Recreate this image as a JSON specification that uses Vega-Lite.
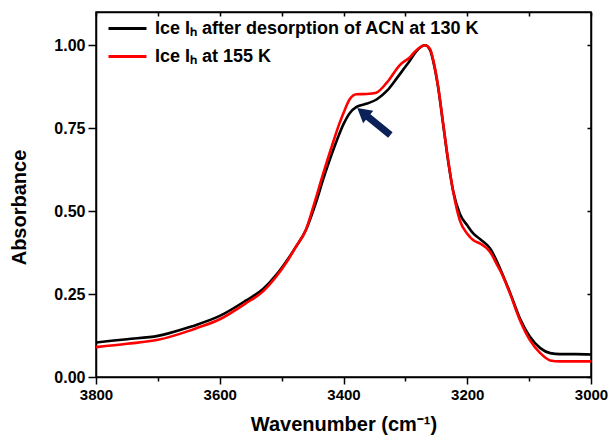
{
  "$schema": "https://vega.github.io/schema/vega-lite/v6.json",
  "width": 495,
  "height": 365,
  "autosize": {"type": "none"},
  "padding": {"left": 96, "top": 12, "right": 19, "bottom": 66},
  "background": "white",
  "config": {
    "font": "Liberation Sans",
    "view": {"stroke": "black", "strokeWidth": 1.5},
    "axis": {"grid": false, "domainColor": "black", "tickColor": "black", "domainWidth": 1.5, "tickWidth": 1.5, "labelColor": "black", "titleColor": "black", "labelFont": "Liberation Sans", "titleFont": "Liberation Sans", "labelFontWeight": "bold", "titleFontWeight": "bold"}
  },
  "datasets": {
    "spectra": [
      {"wn": 3800, "a": 0.104, "s": "Ice Iₕ after desorption of ACN at 130 K"},
      {"wn": 3750, "a": 0.114, "s": "Ice Iₕ after desorption of ACN at 130 K"},
      {"wn": 3700, "a": 0.124, "s": "Ice Iₕ after desorption of ACN at 130 K"},
      {"wn": 3650, "a": 0.150, "s": "Ice Iₕ after desorption of ACN at 130 K"},
      {"wn": 3638, "a": 0.157, "s": "Ice Iₕ after desorption of ACN at 130 K"},
      {"wn": 3600, "a": 0.184, "s": "Ice Iₕ after desorption of ACN at 130 K"},
      {"wn": 3558, "a": 0.230, "s": "Ice Iₕ after desorption of ACN at 130 K"},
      {"wn": 3530, "a": 0.265, "s": "Ice Iₕ after desorption of ACN at 130 K"},
      {"wn": 3509, "a": 0.307, "s": "Ice Iₕ after desorption of ACN at 130 K"},
      {"wn": 3490, "a": 0.355, "s": "Ice Iₕ after desorption of ACN at 130 K"},
      {"wn": 3477, "a": 0.392, "s": "Ice Iₕ after desorption of ACN at 130 K"},
      {"wn": 3461, "a": 0.442, "s": "Ice Iₕ after desorption of ACN at 130 K"},
      {"wn": 3447, "a": 0.512, "s": "Ice Iₕ after desorption of ACN at 130 K"},
      {"wn": 3430, "a": 0.612, "s": "Ice Iₕ after desorption of ACN at 130 K"},
      {"wn": 3411, "a": 0.712, "s": "Ice Iₕ after desorption of ACN at 130 K"},
      {"wn": 3400, "a": 0.762, "s": "Ice Iₕ after desorption of ACN at 130 K"},
      {"wn": 3390, "a": 0.795, "s": "Ice Iₕ after desorption of ACN at 130 K"},
      {"wn": 3379, "a": 0.814, "s": "Ice Iₕ after desorption of ACN at 130 K"},
      {"wn": 3362, "a": 0.824, "s": "Ice Iₕ after desorption of ACN at 130 K"},
      {"wn": 3346, "a": 0.837, "s": "Ice Iₕ after desorption of ACN at 130 K"},
      {"wn": 3330, "a": 0.862, "s": "Ice Iₕ after desorption of ACN at 130 K"},
      {"wn": 3314, "a": 0.900, "s": "Ice Iₕ after desorption of ACN at 130 K"},
      {"wn": 3300, "a": 0.935, "s": "Ice Iₕ after desorption of ACN at 130 K"},
      {"wn": 3292, "a": 0.955, "s": "Ice Iₕ after desorption of ACN at 130 K"},
      {"wn": 3285, "a": 0.975, "s": "Ice Iₕ after desorption of ACN at 130 K"},
      {"wn": 3273, "a": 0.997, "s": "Ice Iₕ after desorption of ACN at 130 K"},
      {"wn": 3268, "a": 1.000, "s": "Ice Iₕ after desorption of ACN at 130 K"},
      {"wn": 3260, "a": 0.985, "s": "Ice Iₕ after desorption of ACN at 130 K"},
      {"wn": 3255, "a": 0.952, "s": "Ice Iₕ after desorption of ACN at 130 K"},
      {"wn": 3247, "a": 0.872, "s": "Ice Iₕ after desorption of ACN at 130 K"},
      {"wn": 3239, "a": 0.762, "s": "Ice Iₕ after desorption of ACN at 130 K"},
      {"wn": 3231, "a": 0.652, "s": "Ice Iₕ after desorption of ACN at 130 K"},
      {"wn": 3223, "a": 0.562, "s": "Ice Iₕ after desorption of ACN at 130 K"},
      {"wn": 3212, "a": 0.492, "s": "Ice Iₕ after desorption of ACN at 130 K"},
      {"wn": 3200, "a": 0.457, "s": "Ice Iₕ after desorption of ACN at 130 K"},
      {"wn": 3190, "a": 0.432, "s": "Ice Iₕ after desorption of ACN at 130 K"},
      {"wn": 3179, "a": 0.415, "s": "Ice Iₕ after desorption of ACN at 130 K"},
      {"wn": 3163, "a": 0.387, "s": "Ice Iₕ after desorption of ACN at 130 K"},
      {"wn": 3150, "a": 0.340, "s": "Ice Iₕ after desorption of ACN at 130 K"},
      {"wn": 3147, "a": 0.327, "s": "Ice Iₕ after desorption of ACN at 130 K"},
      {"wn": 3131, "a": 0.255, "s": "Ice Iₕ after desorption of ACN at 130 K"},
      {"wn": 3115, "a": 0.177, "s": "Ice Iₕ after desorption of ACN at 130 K"},
      {"wn": 3099, "a": 0.122, "s": "Ice Iₕ after desorption of ACN at 130 K"},
      {"wn": 3082, "a": 0.087, "s": "Ice Iₕ after desorption of ACN at 130 K"},
      {"wn": 3066, "a": 0.072, "s": "Ice Iₕ after desorption of ACN at 130 K"},
      {"wn": 3050, "a": 0.069, "s": "Ice Iₕ after desorption of ACN at 130 K"},
      {"wn": 3025, "a": 0.069, "s": "Ice Iₕ after desorption of ACN at 130 K"},
      {"wn": 3000, "a": 0.068, "s": "Ice Iₕ after desorption of ACN at 130 K"},
      {"wn": 3800, "a": 0.090, "s": "Ice Iₕ at 155 K"},
      {"wn": 3750, "a": 0.100, "s": "Ice Iₕ at 155 K"},
      {"wn": 3700, "a": 0.112, "s": "Ice Iₕ at 155 K"},
      {"wn": 3650, "a": 0.139, "s": "Ice Iₕ at 155 K"},
      {"wn": 3638, "a": 0.147, "s": "Ice Iₕ at 155 K"},
      {"wn": 3600, "a": 0.174, "s": "Ice Iₕ at 155 K"},
      {"wn": 3558, "a": 0.222, "s": "Ice Iₕ at 155 K"},
      {"wn": 3530, "a": 0.258, "s": "Ice Iₕ at 155 K"},
      {"wn": 3509, "a": 0.302, "s": "Ice Iₕ at 155 K"},
      {"wn": 3490, "a": 0.352, "s": "Ice Iₕ at 155 K"},
      {"wn": 3477, "a": 0.392, "s": "Ice Iₕ at 155 K"},
      {"wn": 3461, "a": 0.442, "s": "Ice Iₕ at 155 K"},
      {"wn": 3449, "a": 0.512, "s": "Ice Iₕ at 155 K"},
      {"wn": 3433, "a": 0.612, "s": "Ice Iₕ at 155 K"},
      {"wn": 3416, "a": 0.712, "s": "Ice Iₕ at 155 K"},
      {"wn": 3407, "a": 0.762, "s": "Ice Iₕ at 155 K"},
      {"wn": 3398, "a": 0.805, "s": "Ice Iₕ at 155 K"},
      {"wn": 3390, "a": 0.837, "s": "Ice Iₕ at 155 K"},
      {"wn": 3379, "a": 0.852, "s": "Ice Iₕ at 155 K"},
      {"wn": 3363, "a": 0.853, "s": "Ice Iₕ at 155 K"},
      {"wn": 3347, "a": 0.857, "s": "Ice Iₕ at 155 K"},
      {"wn": 3330, "a": 0.887, "s": "Ice Iₕ at 155 K"},
      {"wn": 3309, "a": 0.940, "s": "Ice Iₕ at 155 K"},
      {"wn": 3292, "a": 0.965, "s": "Ice Iₕ at 155 K"},
      {"wn": 3285, "a": 0.980, "s": "Ice Iₕ at 155 K"},
      {"wn": 3273, "a": 0.997, "s": "Ice Iₕ at 155 K"},
      {"wn": 3268, "a": 1.000, "s": "Ice Iₕ at 155 K"},
      {"wn": 3260, "a": 0.988, "s": "Ice Iₕ at 155 K"},
      {"wn": 3255, "a": 0.955, "s": "Ice Iₕ at 155 K"},
      {"wn": 3247, "a": 0.875, "s": "Ice Iₕ at 155 K"},
      {"wn": 3239, "a": 0.765, "s": "Ice Iₕ at 155 K"},
      {"wn": 3231, "a": 0.655, "s": "Ice Iₕ at 155 K"},
      {"wn": 3223, "a": 0.562, "s": "Ice Iₕ at 155 K"},
      {"wn": 3212, "a": 0.472, "s": "Ice Iₕ at 155 K"},
      {"wn": 3200, "a": 0.432, "s": "Ice Iₕ at 155 K"},
      {"wn": 3190, "a": 0.412, "s": "Ice Iₕ at 155 K"},
      {"wn": 3179, "a": 0.402, "s": "Ice Iₕ at 155 K"},
      {"wn": 3163, "a": 0.377, "s": "Ice Iₕ at 155 K"},
      {"wn": 3150, "a": 0.332, "s": "Ice Iₕ at 155 K"},
      {"wn": 3147, "a": 0.322, "s": "Ice Iₕ at 155 K"},
      {"wn": 3131, "a": 0.252, "s": "Ice Iₕ at 155 K"},
      {"wn": 3115, "a": 0.172, "s": "Ice Iₕ at 155 K"},
      {"wn": 3099, "a": 0.112, "s": "Ice Iₕ at 155 K"},
      {"wn": 3082, "a": 0.072, "s": "Ice Iₕ at 155 K"},
      {"wn": 3066, "a": 0.050, "s": "Ice Iₕ at 155 K"},
      {"wn": 3050, "a": 0.047, "s": "Ice Iₕ at 155 K"},
      {"wn": 3000, "a": 0.047, "s": "Ice Iₕ at 155 K"}
    ],
    "arrow": [{"wn": 3351, "a": 0.770}]
  },
  "layer": [
    {
      "data": {"name": "spectra"},
      "mark": {"type": "line", "strokeWidth": 2.6, "interpolate": "monotone", "clip": true},
      "encoding": {
        "x": {"field": "wn", "type": "quantitative",
          "scale": {"domain": [3800, 3000], "nice": false, "zero": false},
          "axis": {"orient": "bottom", "values": [3800, 3600, 3400, 3200, 3000], "format": "d", "tickSize": 7, "labelFontSize": 15, "labelPadding": 3, "labelFlush": false, "title": "Wavenumber (cm⁻¹)", "titleFontSize": 20, "titlePadding": 12}},
        "y": {"field": "a", "type": "quantitative",
          "scale": {"domain": [0, 1.1], "nice": false},
          "axis": {"orient": "left", "values": [0, 0.25, 0.5, 0.75, 1.0], "format": ".2f", "tickSize": 8, "labelFontSize": 16, "labelPadding": 3, "labelFlush": false, "title": "Absorbance", "titleFontSize": 20, "titlePadding": 24, "titleY": 195}},
        "color": {"field": "s", "type": "nominal",
          "scale": {"domain": ["Ice Iₕ after desorption of ACN at 130 K", "Ice Iₕ at 155 K"], "range": ["#000000", "#ff0000"]},
          "legend": {"orient": "none", "legendX": 18, "legendY": 3, "title": null, "symbolType": "M-1.583,0L1.583,0", "symbolSize": 576, "symbolStrokeWidth": 3, "symbolFillColor": "transparent", "labelFontSize": 18, "labelFontWeight": "bold", "labelFont": "Liberation Sans", "labelColor": "black", "labelOffset": 14, "labelLimit": 0, "rowPadding": 5, "padding": 0}}
      }
    },
    {
      "data": {"name": "arrow"},
      "mark": {"type": "point", "filled": true, "color": "#0b2158", "opacity": 1, "size": 1815, "angle": 309,
        "shape": "M0,-1L0.38,-0.34L0.165,-0.34L0.165,1L-0.165,1L-0.165,-0.34L-0.38,-0.34Z"},
      "encoding": {
        "x": {"field": "wn", "type": "quantitative",
          "axis": {"orient": "bottom", "values": [3700, 3500, 3300, 3100], "tickSize": 4, "labels": false, "domain": false, "title": null}},
        "y": {"field": "a", "type": "quantitative",
          "axis": {"orient": "right", "values": [0, 0.25, 0.5, 0.75, 1.0], "tickSize": -4, "labels": false, "title": null}}
      }
    },
    {
      "data": {"name": "arrow"},
      "mark": {"type": "point", "opacity": 0},
      "encoding": {
        "x": {"field": "wn", "type": "quantitative",
          "axis": {"orient": "top", "values": [3800, 3700, 3600, 3500, 3400, 3300, 3200, 3100, 3000], "tickSize": -4, "labels": false, "title": null}},
        "y": {"field": "a", "type": "quantitative", "axis": null}
      }
    }
  ],
  "resolve": {"axis": {"x": "independent", "y": "independent"}}
}
